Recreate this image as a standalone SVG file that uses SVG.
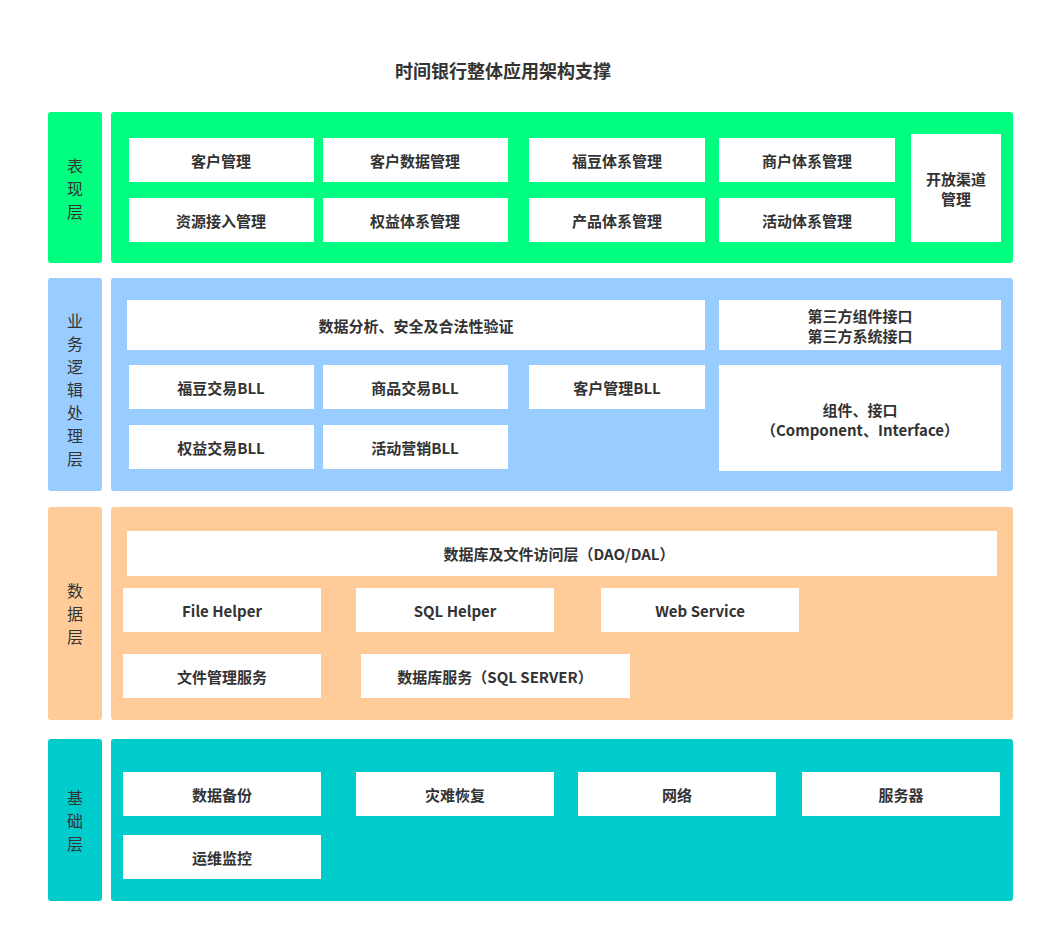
<svg xmlns="http://www.w3.org/2000/svg" width="1045" height="933" viewBox="0 0 1045 933">
<style>
text{font-family:"Noto Sans CJK SC","Noto Sans",sans-serif;fill:#333;text-anchor:middle;dominant-baseline:central}
.t{font-size:15px;font-weight:bold}
.l{font-size:16px}
.b{fill:#fff}
.g{fill:#00FF80}.u{fill:#99CCFF}.o{fill:#FFCC99}.c{fill:#00CCCC}
</style>
<rect width="1045" height="933" fill="#fff"/>
<text x="503" y="70" style="font-size:18px;font-weight:bold">时间银行整体应用架构支撑</text>
<g id="layer1">
<rect class="g" x="48" y="112" width="54" height="151" rx="3"/>
<text class="l" x="75" y="165">表</text><text class="l" x="75" y="188">现</text><text class="l" x="75" y="211">层</text>
<rect class="g" x="111" y="112" width="902" height="151" rx="3"/>
</g>
<g id="n1"><rect class="b" x="129" y="138" width="185" height="44"/><text class="t" x="221" y="160">客户管理</text></g>
<g id="n2"><rect class="b" x="323" y="138" width="185" height="44"/><text class="t" x="415" y="160">客户数据管理</text></g>
<g id="n3"><rect class="b" x="529" y="138" width="176" height="44"/><text class="t" x="617" y="160">福豆体系管理</text></g>
<g id="n4"><rect class="b" x="719" y="138" width="176" height="44"/><text class="t" x="807" y="160">商户体系管理</text></g>
<g id="n5"><rect class="b" x="129" y="198" width="185" height="44"/><text class="t" x="221" y="220">资源接入管理</text></g>
<g id="n6"><rect class="b" x="323" y="198" width="185" height="44"/><text class="t" x="415" y="220">权益体系管理</text></g>
<g id="n7"><rect class="b" x="529" y="198" width="176" height="44"/><text class="t" x="617" y="220">产品体系管理</text></g>
<g id="n8"><rect class="b" x="719" y="198" width="176" height="44"/><text class="t" x="807" y="220">活动体系管理</text></g>
<g id="n9"><rect class="b" x="911" y="134" width="90" height="108"/><text class="t" x="956" y="178">开放渠道</text><text class="t" x="956" y="198">管理</text></g>
<g id="layer2">
<rect class="u" x="48" y="278" width="54" height="213" rx="3"/>
<text class="l" x="75" y="320">业</text><text class="l" x="75" y="343">务</text><text class="l" x="75" y="366">逻</text><text class="l" x="75" y="389">辑</text><text class="l" x="75" y="412">处</text><text class="l" x="75" y="435">理</text><text class="l" x="75" y="458">层</text>
<rect class="u" x="111" y="278" width="902" height="213" rx="3"/>
</g>
<g id="m1"><rect class="b" x="127" y="300" width="578" height="50"/><text class="t" x="416" y="325">数据分析、安全及合法性验证</text></g>
<g id="m2"><rect class="b" x="719" y="300" width="282" height="50"/><text class="t" x="860" y="315">第三方组件接口</text><text class="t" x="860" y="335">第三方系统接口</text></g>
<g id="m3"><rect class="b" x="129" y="365" width="185" height="44"/><text class="t" x="221" y="387">福豆交易BLL</text></g>
<g id="m4"><rect class="b" x="323" y="365" width="185" height="44"/><text class="t" x="415" y="387">商品交易BLL</text></g>
<g id="m5"><rect class="b" x="529" y="365" width="176" height="44"/><text class="t" x="617" y="387">客户管理BLL</text></g>
<g id="m6"><rect class="b" x="719" y="365" width="282" height="106"/><text class="t" x="860" y="409">组件、接口</text><text class="t" x="860" y="429">（Component、Interface）</text></g>
<g id="m7"><rect class="b" x="129" y="425" width="185" height="44"/><text class="t" x="221" y="447">权益交易BLL</text></g>
<g id="m8"><rect class="b" x="323" y="425" width="185" height="44"/><text class="t" x="415" y="447">活动营销BLL</text></g>
<g id="layer3">
<rect class="o" x="48" y="507" width="54" height="213" rx="3"/>
<text class="l" x="75" y="590">数</text><text class="l" x="75" y="613">据</text><text class="l" x="75" y="636">层</text>
<rect class="o" x="111" y="507" width="902" height="213" rx="3"/>
</g>
<g id="d1"><rect class="b" x="127" y="531" width="870" height="45"/><text class="t" x="559" y="553">数据库及文件访问层（DAO/DAL）</text></g>
<g id="d2"><rect class="b" x="123" y="588" width="198" height="44"/><text class="t" x="222" y="610">File Helper</text></g>
<g id="d3"><rect class="b" x="356" y="588" width="198" height="44"/><text class="t" x="455" y="610">SQL Helper</text></g>
<g id="d4"><rect class="b" x="601" y="588" width="198" height="44"/><text class="t" x="700" y="610">Web Service</text></g>
<g id="d5"><rect class="b" x="123" y="654" width="198" height="44"/><text class="t" x="222" y="676">文件管理服务</text></g>
<g id="d6"><rect class="b" x="361" y="654" width="269" height="44"/><text class="t" x="495" y="676">数据库服务（SQL SERVER）</text></g>
<g id="layer4">
<rect class="c" x="48" y="739" width="54" height="162" rx="3"/>
<text class="l" x="75" y="797">基</text><text class="l" x="75" y="820">础</text><text class="l" x="75" y="843">层</text>
<rect class="c" x="111" y="739" width="902" height="162" rx="3"/>
</g>
<g id="f1"><rect class="b" x="123" y="772" width="198" height="44"/><text class="t" x="222" y="794">数据备份</text></g>
<g id="f2"><rect class="b" x="356" y="772" width="198" height="44"/><text class="t" x="455" y="794">灾难恢复</text></g>
<g id="f3"><rect class="b" x="578" y="772" width="198" height="44"/><text class="t" x="677" y="794">网络</text></g>
<g id="f4"><rect class="b" x="802" y="772" width="198" height="44"/><text class="t" x="901" y="794">服务器</text></g>
<g id="f5"><rect class="b" x="123" y="835" width="198" height="44"/><text class="t" x="222" y="857">运维监控</text></g>
<g id="connectors"></g>
</svg>
